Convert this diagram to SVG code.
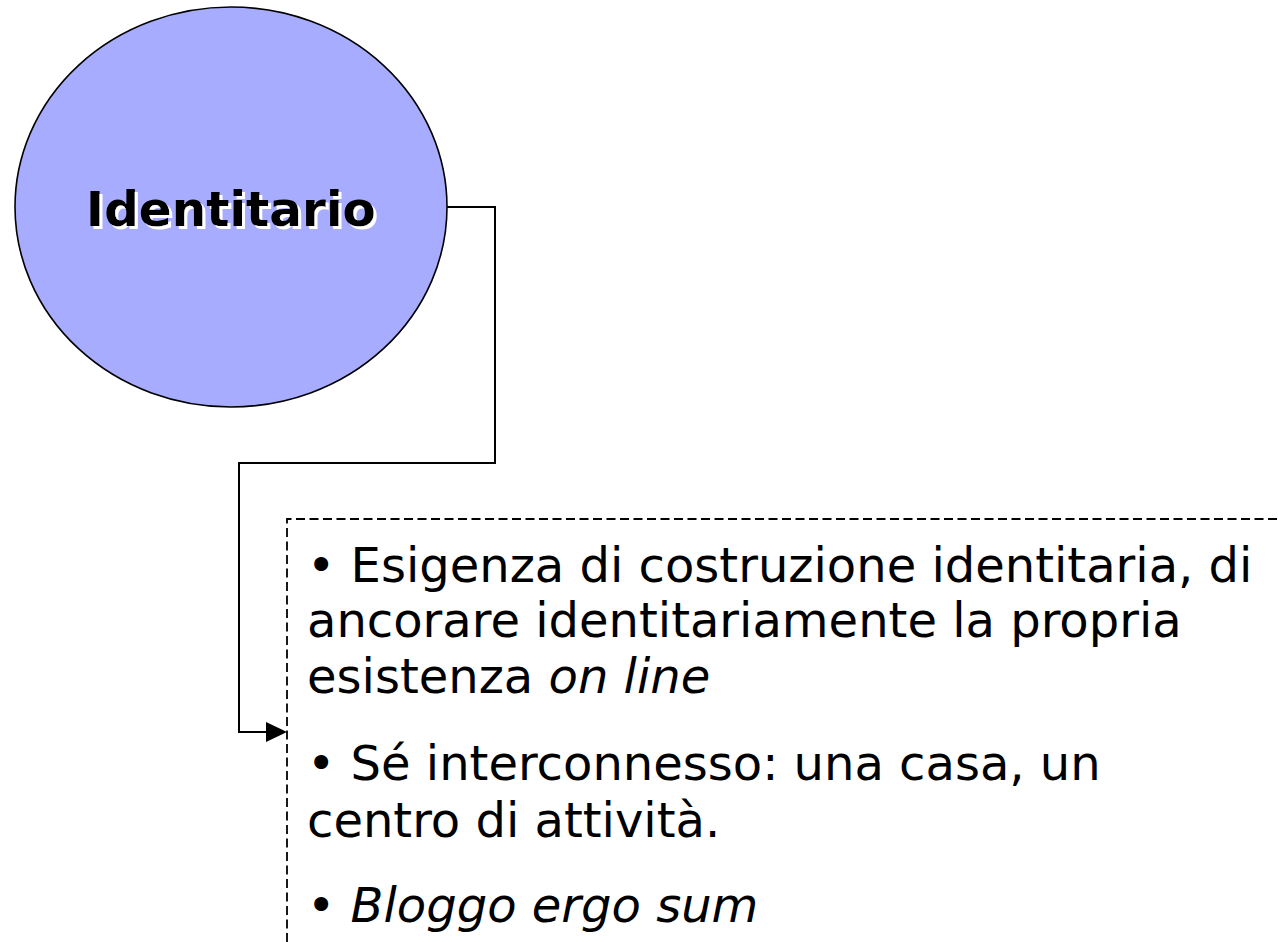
<svg xmlns="http://www.w3.org/2000/svg" width="1278" height="942" viewBox="0 0 1278 942">
<style>
.body{font-family:"DejaVu Sans","Liberation Sans",sans-serif;font-size:48px;fill:#000}
.title{font-family:"DejaVu Sans","Liberation Sans",sans-serif;font-size:48.5px;font-weight:bold;text-anchor:middle;fill:#000}
.conn{fill:none;stroke:#000;stroke-width:2}
</style>
<defs>
<filter id="shadow" x="-10%" y="-30%" width="130%" height="160%">
<feOffset in="SourceAlpha" dx="3" dy="3" result="off"/>
<feFlood flood-color="#fff"/>
<feComposite in2="off" operator="in" result="sh"/>
<feMerge><feMergeNode in="sh"/><feMergeNode in="SourceGraphic"/></feMerge>
</filter>
</defs>
<rect width="1278" height="942" fill="#fff"/>
<g id="connectors">
<path class="conn" d="M447,207 H495 V463 H239 V732 H268"/>
<path d="M266,722 L287,732 L266,742 Z" fill="#000"/>
</g>
<g id="node-identitario">
<ellipse cx="231" cy="207" rx="216" ry="200" fill="#a8acff" stroke="#000" stroke-width="1.6"/>
<text class="title" x="231" y="226" filter="url(#shadow)">Identitario</text>
</g>
<g id="node-text">
<path d="M287,942 V519 H1278" fill="none" stroke="#000" stroke-width="1.8" stroke-dasharray="9,4.5"/>
<text class="body" x="307" y="582">• Esigenza di costruzione identitaria, di</text>
<text class="body" x="307" y="637">ancorare identitariamente la propria</text>
<text class="body" x="307" y="693">esistenza <tspan font-style="italic">on line</tspan></text>
<text class="body" x="307" y="780">• Sé interconnesso: una casa, un</text>
<text class="body" x="307" y="837">centro di attività.</text>
<text class="body" x="307" y="922">• <tspan font-style="italic">Bloggo ergo sum</tspan></text>
</g>
</svg>
